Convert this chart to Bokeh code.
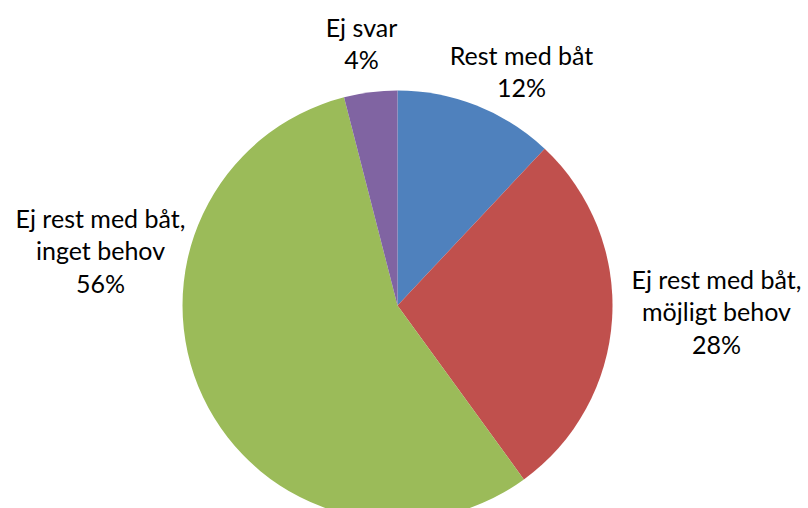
import math
from bokeh.plotting import figure
from bokeh.models import Range1d, ColumnDataSource
from bokeh.core.properties import value
from bokeh.embed import file_html
from bokeh.resources import INLINE

# ---- data ----
categories = ["Rest med båt", "Ej rest med båt, möjligt behov", "Ej rest med båt, inget behov", "Ej svar"]
shares = [12, 28, 56, 4]
colors = ["#4F81BD", "#C0504D", "#9BBB59", "#8064A2"]
label_lines = [
    ["Rest med båt", "12%"],
    ["Ej rest med båt,", "möjligt behov", "28%"],
    ["Ej rest med båt,", "inget behov", "56%"],
    ["Ej svar", "4%"],
]

# ---- layout (page pixels -> data: x = px, y = 508 - py) ----
W, H = 808, 508
cx, cy, r = 397, 508 - 305, 215
label_pos = [(521, 54), (716, 278), (100, 217), (361, 26)]  # center x, first baseline (page px)
line_gap = 32.5
font = "Lato"
fsize = "25px"

p = figure(width=W, height=H, output_backend="svg", toolbar_location=None,
           x_range=Range1d(0, 808), y_range=Range1d(0, 508),
           min_border=0, outline_line_color=None)
p.axis.visible = False
p.grid.visible = False

total = sum(shares)
cum = 0
starts, ends = [], []
for s in shares:
    a0 = math.pi / 2 - 2 * math.pi * cum / total
    cum += s
    a1 = math.pi / 2 - 2 * math.pi * cum / total
    starts.append(a0)
    ends.append(a1)

src = ColumnDataSource(dict(x=[cx] * len(shares), y=[cy] * len(shares),
                            start=starts, end=ends, color=colors, cat=categories))
p.wedge(x="x", y="y", radius=r, start_angle="start", end_angle="end",
        direction="clock", fill_color="color", line_color=None, source=src)

tx, ty, tt = [], [], []
for lines, (lx, ly) in zip(label_lines, label_pos):
    for i, t in enumerate(lines):
        tx.append(lx)
        ty.append(508 - (ly + i * line_gap))
        tt.append(t)
p.text(x=tx, y=ty, text=tt, text_font=value(font), text_font_size=fsize,
       text_align="center", text_baseline="alphabetic", text_color="#000000")

open("out.html", "w").write(file_html(p, INLINE))
